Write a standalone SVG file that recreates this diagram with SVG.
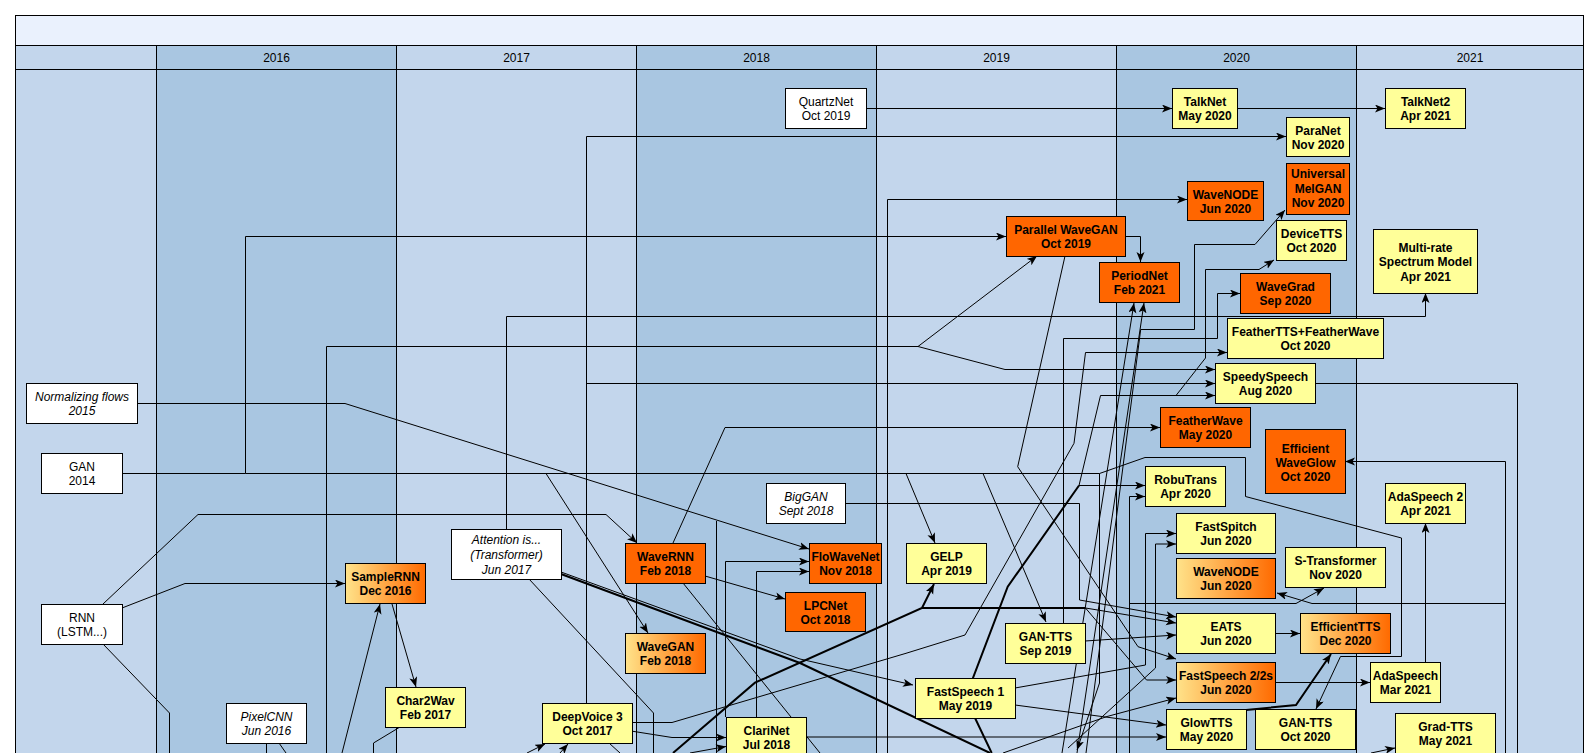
<svg xmlns="http://www.w3.org/2000/svg" width="1594" height="753" viewBox="0 0 1594 753">
<defs>
<marker id="a" markerUnits="userSpaceOnUse" markerWidth="11" markerHeight="9" refX="10" refY="4" orient="auto"><path d="M0,0 L10,4 L0,8 L2.5,4 Z" fill="#000"/></marker>
<linearGradient id="g" x1="0" y1="0" x2="1" y2="0"><stop offset="0" stop-color="#FFE38A"/><stop offset="1" stop-color="#FF6A00"/></linearGradient>
</defs>
<style>
.c{fill:none;stroke:#000;stroke-width:1}
.ar{marker-end:url(#a)}
.tk{stroke-width:2}
.n rect{stroke:#000;stroke-width:1}
.y rect{fill:#FFFF99}
.o rect{fill:#FF6600}
.gr rect{fill:url(#g)}
.w rect{fill:#fff}
text{font-family:"Liberation Sans",Arial,sans-serif;font-size:12px;text-anchor:middle;fill:#000}
.b text{font-weight:bold}
.i text{font-style:italic}
.lt{fill:#C3D6EC;stroke:#000}
.dk{fill:#A9C6E1;stroke:#000}
</style>
<g id="background">
<rect x="15.5" y="15.5" width="1568" height="760" class="lt"/>
<rect x="15.5" y="15.5" width="1568" height="30" fill="#EAF1FD" stroke="#000"/>
<rect x="15.5" y="45.5" width="141" height="24" class="lt"/>
<rect x="15.5" y="69.5" width="141" height="700" class="lt"/>
<rect x="156.5" y="45.5" width="240" height="24" class="dk"/>
<rect x="156.5" y="69.5" width="240" height="700" class="dk"/>
<rect x="396.5" y="45.5" width="240" height="24" class="lt"/>
<rect x="396.5" y="69.5" width="240" height="700" class="lt"/>
<rect x="636.5" y="45.5" width="240" height="24" class="dk"/>
<rect x="636.5" y="69.5" width="240" height="700" class="dk"/>
<rect x="876.5" y="45.5" width="240" height="24" class="lt"/>
<rect x="876.5" y="69.5" width="240" height="700" class="lt"/>
<rect x="1116.5" y="45.5" width="240" height="24" class="dk"/>
<rect x="1116.5" y="69.5" width="240" height="700" class="dk"/>
<rect x="1356.5" y="45.5" width="227" height="24" class="lt"/>
<rect x="1356.5" y="69.5" width="227" height="700" class="lt"/>
<text x="276.5" y="61.5">2016</text>
<text x="516.5" y="61.5">2017</text>
<text x="756.5" y="61.5">2018</text>
<text x="996.5" y="61.5">2019</text>
<text x="1236.5" y="61.5">2020</text>
<text x="1470" y="61.5">2021</text>
</g>
<g id="connectors">
<path class="c ar" d="M866,108.5 H1172"/>
<path class="c ar" d="M1237,108.5 H1385"/>
<path class="c ar" d="M586.5,703 V136.5 H1286"/>
<path class="c ar" d="M586.5,383.5 H1215"/>
<path class="c ar" d="M887.5,753 V199.5 H1187"/>
<path class="c ar" d="M122,473.5 H245.5 V236.5 H1006"/>
<path class="c ar" d="M1125,236.5 H1140.5 V262"/>
<path class="c ar" d="M506.5,529 V316.5 H1425.5 V293"/>
<path class="c ar" d="M326.5,753 V346.5 H918 L1037,256"/>
<path class="c ar" d="M918,346.5 L1005,369.5 H1215"/>
<path class="c ar" d="M137,403.5 H345 L809,549"/>
<path class="c" d="M716.5,521 V753"/>
<path class="c ar" d="M245.5,473.5 H1099.5 L1145,457.5 H1245.5 V496.5 L1401.5,538 V656.5 H1340.5 L1316,709"/>
<path class="c ar" d="M1099.5,473.5 V683 L1077,750"/>
<path class="c ar" d="M546,473.5 L648,633"/>
<path class="c ar" d="M906,473.5 L935,543"/>
<path class="c ar" d="M983,473.5 L1046,622"/>
<path class="c ar" d="M122,608 L185,583.5 H345"/>
<path class="c ar" d="M103,604 L198,514.5 H606 L637,543"/>
<path class="c" d="M103,644 L169.5,713 V753"/>
<path class="c ar" d="M392,604 L416,687"/>
<path class="c ar" d="M342,753 L380,604"/>
<path class="c" d="M266.5,743 V753"/>
<path class="c" d="M279,743 L286,753"/>
<path class="c" d="M373.5,753 V743 L400,727"/>
<path class="c ar" d="M527,753 L545,744"/>
<path class="c ar" d="M560,753 L568,744"/>
<path class="c" d="M609,743 L620,753"/>
<path class="c ar" d="M705,576 L785,599"/>
<path class="c ar" d="M673,543 L725,427.5 H1160"/>
<path class="c" d="M683,583 L820,753"/>
<path class="c tk" d="M561,574 L800,663 L990,753"/>
<path class="c ar" d="M561,572 L800,659 L913,685"/>
<path class="c" d="M529,579 L653.5,713 V753"/>
<path class="c ar" d="M725.5,717 V561.5 H809"/>
<path class="c ar" d="M756.5,753 V571.5 H809"/>
<path class="c tk ar" d="M673,753 L755,682.7 L922,608 L934,584"/>
<path class="c tk" d="M922,608 H1085.5"/>
<path class="c ar" d="M1085.5,608 L1176,623"/>
<path class="c ar" d="M1085.5,608 L1146.5,680 H1176"/>
<path class="c ar" d="M845,503.5 H1079.5 V600 L1176,617"/>
<path class="c ar" d="M631,731 L672,737.5 H726"/>
<path class="c ar" d="M690,753 L726,746.5"/>
<path class="c ar" d="M631,722.5 H672 L906,653.3 L965,635 L1074,443.3 L1085.5,352.5 H1227"/>
<path class="c ar" d="M1085,641 L1176,635"/>
<path class="c ar" d="M1015,688 L1145.5,665 V533.5 H1176"/>
<path class="c ar" d="M1068,748 L1155.5,668 V544 H1176"/>
<path class="c ar" d="M1015,705 L1113,718 L1166,725"/>
<path class="c ar" d="M806,737 H1166"/>
<path class="c ar" d="M1003,753 L1107,716.5 L1176,698"/>
<path class="c ar" d="M1063.5,623 V338.5 H1217.5 V293.5 H1240"/>
<path class="c ar" d="M1065,256 L1017.7,466.7 L1138,646.7 L1176,659"/>
<path class="c tk" d="M991.7,753 L975,718 L973,678 L1007.7,586.7 L1079,485.5"/>
<path class="c ar" d="M1079,485.5 H1145"/>
<path class="c ar" d="M1079,485.5 L1100.5,395.5 H1215"/>
<path class="c ar" d="M1176,395.5 L1205.5,358 V269.5 H1259 L1274,260"/>
<path class="c ar" d="M1086,753 L1140.7,329.5 H1194.5 V244.5 H1255 L1285,210"/>
<path class="c ar" d="M1129.5,753 V496.5 H1145"/>
<path class="c ar" d="M1129.5,603.5 H1296 L1324,588"/>
<path class="c" d="M1315,383.5 H1517.5 V753"/>
<path class="c ar" d="M1505.5,753 V461.5 H1345"/>
<path class="c ar" d="M1505.5,603.5 H1312 L1277,593"/>
<path class="c ar" d="M1275,633.5 H1300"/>
<path class="c ar" d="M1275,682.5 H1370"/>
<path class="c ar" d="M1425.5,662 V523"/>
<path class="c tk ar" d="M1246,710 L1296,705 L1331,654"/>
<path class="c ar" d="M1371,753 L1395,748"/>
<path class="c ar" d="M1062,753 L1134,303"/>
<path class="c ar" d="M1077,753 L1144,303"/>
</g>
<g id="n-quartznet" class="n w"><rect x="785.5" y="88.5" width="81" height="40"/><text x="826" y="106">QuartzNet</text><text x="826" y="120">Oct 2019</text></g>
<g id="n-talknet" class="n y b"><rect x="1172.5" y="88.5" width="65" height="40"/><text x="1205" y="106">TalkNet</text><text x="1205" y="120">May 2020</text></g>
<g id="n-talknet2" class="n y b"><rect x="1385.5" y="88.5" width="80" height="40"/><text x="1425.5" y="106">TalkNet2</text><text x="1425.5" y="120">Apr 2021</text></g>
<g id="n-paranet" class="n y b"><rect x="1286.5" y="117.5" width="63" height="39"/><text x="1318" y="134.5">ParaNet</text><text x="1318" y="148.5">Nov 2020</text></g>
<g id="n-umelgan" class="n o b"><rect x="1286.5" y="163.5" width="63" height="51"/><text x="1318" y="178.3">Universal</text><text x="1318" y="192.8">MelGAN</text><text x="1318" y="207.3">Nov 2020</text></g>
<g id="n-wavenode1" class="n o b"><rect x="1187.5" y="181.5" width="76" height="39"/><text x="1225.5" y="198.5">WaveNODE</text><text x="1225.5" y="212.5">Jun 2020</text></g>
<g id="n-devicetts" class="n y b"><rect x="1276.5" y="220.5" width="70" height="40"/><text x="1311.5" y="238">DeviceTTS</text><text x="1311.5" y="252">Oct 2020</text></g>
<g id="n-multirate" class="n y b"><rect x="1373.5" y="229.5" width="104" height="64"/><text x="1425.5" y="252.3">Multi-rate</text><text x="1425.5" y="266.3">Spectrum Model</text><text x="1425.5" y="280.8">Apr 2021</text></g>
<g id="n-pwgan" class="n o b"><rect x="1006.5" y="216.5" width="119" height="40"/><text x="1066" y="234">Parallel WaveGAN</text><text x="1066" y="248">Oct 2019</text></g>
<g id="n-periodnet" class="n o b"><rect x="1099.5" y="262.5" width="80" height="40"/><text x="1139.5" y="280">PeriodNet</text><text x="1139.5" y="294">Feb 2021</text></g>
<g id="n-wavegrad" class="n o b"><rect x="1240.5" y="273.5" width="90" height="40"/><text x="1285.5" y="291">WaveGrad</text><text x="1285.5" y="305">Sep 2020</text></g>
<g id="n-feathertts" class="n y b"><rect x="1227.5" y="318.5" width="156" height="40"/><text x="1305.5" y="336">FeatherTTS+FeatherWave</text><text x="1305.5" y="350">Oct 2020</text></g>
<g id="n-speedyspeech" class="n y b"><rect x="1215.5" y="363.5" width="100" height="40"/><text x="1265.5" y="381">SpeedySpeech</text><text x="1265.5" y="395">Aug 2020</text></g>
<g id="n-featherwave" class="n o b"><rect x="1160.5" y="407.5" width="90" height="40"/><text x="1205.5" y="425">FeatherWave</text><text x="1205.5" y="439">May 2020</text></g>
<g id="n-effwaveglow" class="n o b"><rect x="1265.5" y="429.5" width="80" height="64"/><text x="1305.5" y="452.5">Efficient</text><text x="1305.5" y="466.5">WaveGlow</text><text x="1305.5" y="481">Oct 2020</text></g>
<g id="n-robutrans" class="n y b"><rect x="1145.5" y="466.5" width="80" height="40"/><text x="1185.5" y="484">RobuTrans</text><text x="1185.5" y="498">Apr 2020</text></g>
<g id="n-adaspeech2" class="n y b"><rect x="1385.5" y="483.5" width="80" height="40"/><text x="1425.5" y="501">AdaSpeech 2</text><text x="1425.5" y="515">Apr 2021</text></g>
<g id="n-biggan" class="n w i"><rect x="766.5" y="483.5" width="79" height="40"/><text x="806" y="501">BigGAN</text><text x="806" y="515">Sept 2018</text></g>
<g id="n-nflows" class="n w i"><rect x="26.5" y="383.5" width="111" height="40"/><text x="82" y="401">Normalizing flows</text><text x="82" y="415">2015</text></g>
<g id="n-gan" class="n w"><rect x="41.5" y="453.5" width="81" height="40"/><text x="82" y="471">GAN</text><text x="82" y="485">2014</text></g>
<g id="n-rnn" class="n w"><rect x="41.5" y="604.5" width="81" height="40"/><text x="82" y="622">RNN</text><text x="82" y="636">(LSTM...)</text></g>
<g id="n-samplernn" class="n gr b"><rect x="345.5" y="563.5" width="80" height="40"/><text x="385.5" y="581">SampleRNN</text><text x="385.5" y="595">Dec 2016</text></g>
<g id="n-pixelcnn" class="n w i"><rect x="226.5" y="703.5" width="80" height="40"/><text x="266.5" y="721">PixelCNN</text><text x="266.5" y="735">Jun 2016</text></g>
<g id="n-char2wav" class="n y b"><rect x="385.5" y="687.5" width="80" height="40"/><text x="425.5" y="705">Char2Wav</text><text x="425.5" y="719">Feb 2017</text></g>
<g id="n-attention" class="n w i"><rect x="451.5" y="529.5" width="110" height="50"/><text x="506.5" y="544.3">Attention is...</text><text x="506.5" y="559.3">(Transformer)</text><text x="506.5" y="573.6">Jun 2017</text></g>
<g id="n-wavernn" class="n o b"><rect x="625.5" y="543.5" width="80" height="40"/><text x="665.5" y="561">WaveRNN</text><text x="665.5" y="575">Feb 2018</text></g>
<g id="n-wavegan" class="n gr b"><rect x="625.5" y="633.5" width="80" height="40"/><text x="665.5" y="651">WaveGAN</text><text x="665.5" y="665">Feb 2018</text></g>
<g id="n-deepvoice3" class="n y b"><rect x="542.5" y="703.5" width="90" height="40"/><text x="587.5" y="721">DeepVoice 3</text><text x="587.5" y="735">Oct 2017</text></g>
<g id="n-clarinet" class="n y b"><rect x="726.5" y="717.5" width="80" height="40"/><text x="766.5" y="735">ClariNet</text><text x="766.5" y="749">Jul 2018</text></g>
<g id="n-flowavenet" class="n o b"><rect x="809.5" y="543.5" width="72" height="40"/><text x="845.5" y="561">FloWaveNet</text><text x="845.5" y="575">Nov 2018</text></g>
<g id="n-lpcnet" class="n o b"><rect x="785.5" y="592.5" width="80" height="39"/><text x="825.5" y="609.5">LPCNet</text><text x="825.5" y="623.5">Oct 2018</text></g>
<g id="n-gelp" class="n y b"><rect x="906.5" y="543.5" width="80" height="40"/><text x="946.5" y="561">GELP</text><text x="946.5" y="575">Apr 2019</text></g>
<g id="n-gantts2019" class="n y b"><rect x="1005.5" y="623.5" width="80" height="40"/><text x="1045.5" y="641">GAN-TTS</text><text x="1045.5" y="655">Sep 2019</text></g>
<g id="n-fastspeech1" class="n y b"><rect x="915.5" y="678.5" width="100" height="40"/><text x="965.5" y="696">FastSpeech 1</text><text x="965.5" y="710">May 2019</text></g>
<g id="n-fastspitch" class="n y b"><rect x="1176.5" y="513.5" width="99" height="40"/><text x="1226" y="531">FastSpitch</text><text x="1226" y="545">Jun 2020</text></g>
<g id="n-wavenode2" class="n gr b"><rect x="1176.5" y="558.5" width="99" height="40"/><text x="1226" y="576">WaveNODE</text><text x="1226" y="590">Jun 2020</text></g>
<g id="n-stransformer" class="n y b"><rect x="1285.5" y="547.5" width="100" height="40"/><text x="1335.5" y="565">S-Transformer</text><text x="1335.5" y="579">Nov 2020</text></g>
<g id="n-eats" class="n y b"><rect x="1176.5" y="613.5" width="99" height="40"/><text x="1226" y="631">EATS</text><text x="1226" y="645">Jun 2020</text></g>
<g id="n-efficienttts" class="n gr b"><rect x="1300.5" y="613.5" width="90" height="40"/><text x="1345.5" y="631">EfficientTTS</text><text x="1345.5" y="645">Dec 2020</text></g>
<g id="n-fastspeech2" class="n gr b"><rect x="1176.5" y="662.5" width="99" height="40"/><text x="1226" y="680">FastSpeech 2/2s</text><text x="1226" y="694">Jun 2020</text></g>
<g id="n-adaspeech" class="n y b"><rect x="1370.5" y="662.5" width="70" height="40"/><text x="1405.5" y="680">AdaSpeech</text><text x="1405.5" y="694">Mar 2021</text></g>
<g id="n-glowtts" class="n y b"><rect x="1166.5" y="709.5" width="80" height="40"/><text x="1206.5" y="727">GlowTTS</text><text x="1206.5" y="741">May 2020</text></g>
<g id="n-gantts2020" class="n y b"><rect x="1255.5" y="709.5" width="100" height="40"/><text x="1305.5" y="727">GAN-TTS</text><text x="1305.5" y="741">Oct 2020</text></g>
<g id="n-gradtts" class="n y b"><rect x="1395.5" y="713.5" width="100" height="40"/><text x="1445.5" y="731">Grad-TTS</text><text x="1445.5" y="745">May 2021</text></g>
</svg>
